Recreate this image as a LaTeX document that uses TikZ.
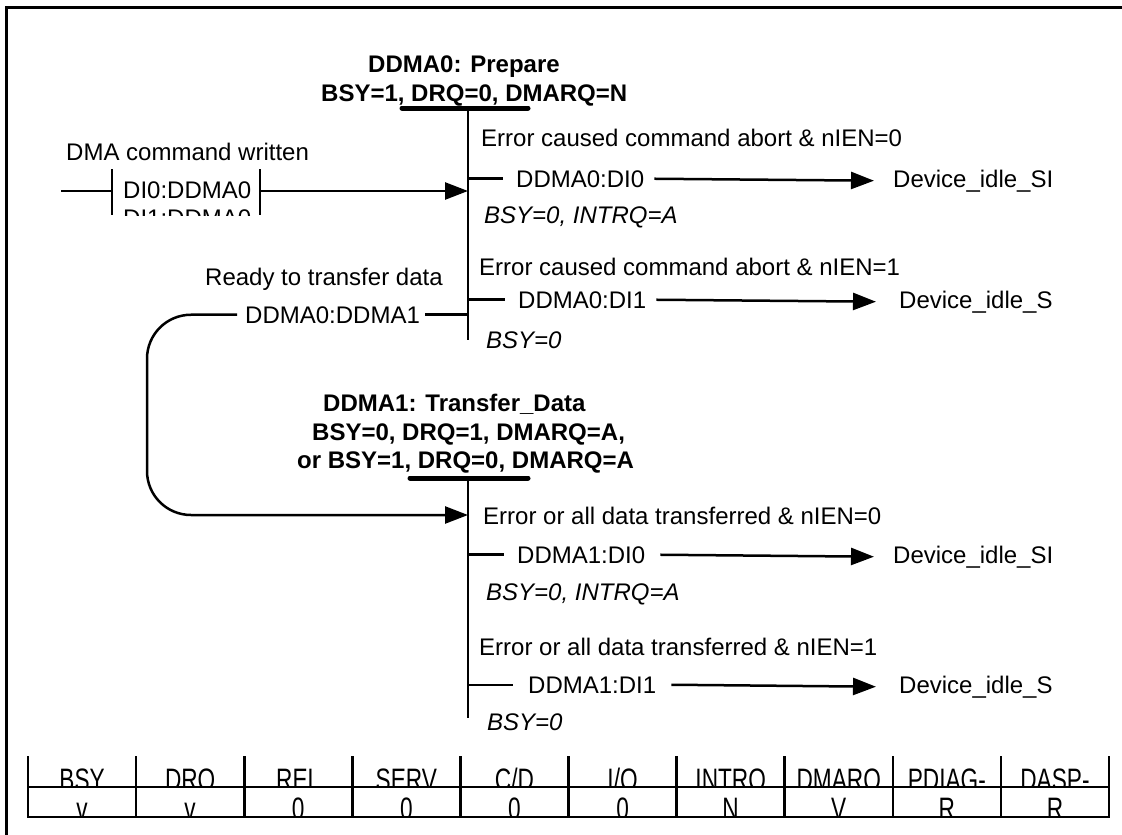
\documentclass[tikz,border=0pt]{standalone}
\usepackage{fontspec}
\setmainfont{Liberation Sans}
\usetikzlibrary{arrows.meta,calc}
\begin{document}
\begin{tikzpicture}[x=1pt,y=-1pt,
  txt/.style={font=\fontsize{24}{28}\selectfont, inner sep=0pt, anchor=base west},
  btxt/.style={txt, font=\fontsize{24}{28}\selectfont\bfseries},
  itxt/.style={txt, font=\fontsize{24}{28}\selectfont\itshape},
  ln/.style={line width=2.5pt},
  vln/.style={line width=2.8pt},
  arr/.style={line width=2.5pt, -{Triangle[length=23pt,width=17pt]}},
  statebar/.style={line width=5pt, line cap=round},
  tbl/.style={line width=2.6pt, line cap=rect},
  cell/.style={font=\fontsize{31}{34}\selectfont, inner sep=0pt, anchor=base}
]
\useasboundingbox (0,0) rectangle (1122,835);
% frame
\draw[line width=3pt] (1122,7.5) -- (6,7.5) -- (6,835);

% ---------- state DDMA0 ----------
\node[btxt] (t0a) at (368,72) {DDMA0: Prepare};
\node[btxt] (t0b) at (321,101) {BSY=1, DRQ=0, DMARQ=N};
\coordinate (s0top) at (468,108);
\coordinate (s0bot) at (468,340);
\draw[statebar] (402,108) -- (528,108);
\draw[vln] (s0top) -- (s0bot);

% entry from command
\node[txt] (dmaw) at (66,160) {DMA command written};
\coordinate (lbL) at (112,191);
\coordinate (lbR) at (260,191);
\coordinate (stub) at (61,191);
\coordinate (s0in) at (468,191);
\draw[ln] (112,169) -- (112,215);
\draw[ln] (260,169) -- (260,215);
\begin{scope}
  \clip (112,169) rectangle (260,215);
  \node[txt] (di0) at (123,198) {DI0:DDMA0};
  \node[txt] (di1) at (123,226) {DI1:DDMA0};
\end{scope}
\draw[ln] (stub) -- (lbL);
\draw[arr] (lbR) -- (s0in);

% branches of DDMA0
\node[txt] (e00) at (481,146) {Error caused command abort \& nIEN=0};
\node[txt] (d00) at (516,187) {DDMA0:DI0};
\node[txt] (i00) at (893,187) {Device\_idle\_SI};
\node[itxt] (b00) at (484,223) {BSY=0, INTRQ=A};
\draw[ln] (s0top |- d00.west) -- ([xshift=-13pt]d00.west);
\draw[arr] ([xshift=10pt]d00.east) -- ([xshift=-19pt]i00.west);

\node[txt] (e01) at (479,275) {Error caused command abort \& nIEN=1};
\node[txt] (d01) at (518,308) {DDMA0:DI1};
\node[txt] (i01) at (899,308) {Device\_idle\_S};
\node[itxt] (b01) at (486,348) {BSY=0};
\draw[ln] (s0top |- d01.west) -- ([xshift=-13pt]d01.west);
\draw[arr] ([xshift=10pt]d01.east) -- ([xshift=-23pt]i01.west);

% transition to DDMA1
\node[txt] (ready) at (205,285) {Ready to transfer data};
\node[txt] (dd) at (245,323) {DDMA0:DDMA1};
\draw[ln] ([xshift=5pt]dd.east) -- (s0top |- dd.east);

% ---------- state DDMA1 ----------
\node[btxt] (t1a) at (323,411) {DDMA1: Transfer\_Data};
\node[btxt] (t1b) at (312,440) {BSY=0, DRQ=1, DMARQ=A,};
\node[btxt] (t1c) at (297,468) {or BSY=1, DRQ=0, DMARQ=A};
\coordinate (s1top) at (468,478);
\coordinate (s1bot) at (468,718);
\coordinate (s1in) at (468,515);
\coordinate (loopc) at (147,515);
\draw[statebar] (410,478) -- (528,478);
\draw[vln] (s1top) -- (s1bot);
\draw[arr, rounded corners=44pt] ([xshift=-8pt]dd.west) -| (loopc) -- (s1in);

\node[txt] (e10) at (483,524) {Error or all data transferred \& nIEN=0};
\node[txt] (d10) at (517,563) {DDMA1:DI0};
\node[txt] (i10) at (893,563) {Device\_idle\_SI};
\node[itxt] (b10) at (486,600) {BSY=0, INTRQ=A};
\draw[ln] (s1top |- d10.west) -- ([xshift=-13pt]d10.west);
\draw[arr] ([xshift=15pt]d10.east) -- ([xshift=-19pt]i10.west);

\node[txt] (e11) at (479,655) {Error or all data transferred \& nIEN=1};
\node[txt] (d11) at (528,693) {DDMA1:DI1};
\node[txt] (i11) at (899,693) {Device\_idle\_S};
\node[itxt] (b11) at (487,730) {BSY=0};
\draw[ln] (s1top |- d11.west) -- ([xshift=-15pt]d11.west);
\draw[arr] ([xshift=15pt]d11.east) -- ([xshift=-23pt]i11.west);

% ---------- status table ----------
\foreach \i in {0,...,10} {
  \draw[tbl] (28+108.1*\i,757) -- (28+108.1*\i,817);
}
\draw[tbl] (28,787) -- (1109,787);
\draw[tbl] (28,817) -- (1109,817);
\begin{scope}
  \clip (28,740) rectangle (1109,786);
  \foreach \t [count=\i from 0] in {BSY,DRQ,REL,SERV,C/D,I/O,INTRQ,DMARQ,PDIAG-,DASP-} {
    \node[cell] (h\i) at (82.05+108.1*\i,790) {\scalebox{0.73}[1]{\t}};
  }
\end{scope}
\begin{scope}
  \clip (28,788) rectangle (1109,816);
  \foreach \t [count=\i from 0] in {v,v,0,0,0,0,N,V,R,R} {
    \node[cell] (v\i) at (82.05+108.1*\i,819) {\scalebox{0.73}[1]{\t}};
  }
\end{scope}
\end{tikzpicture}
\end{document}
